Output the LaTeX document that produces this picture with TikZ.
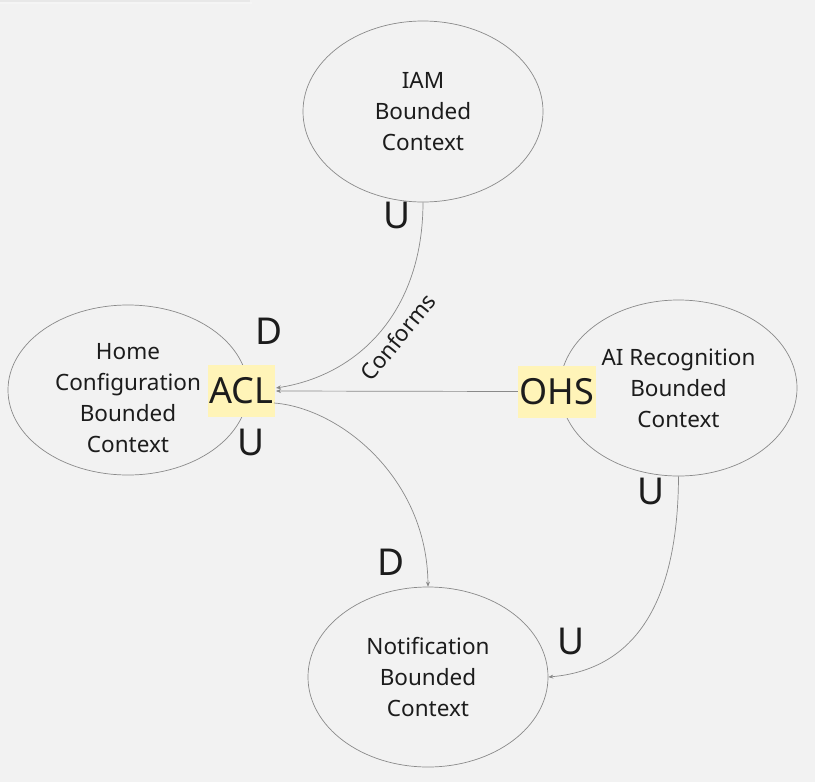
\documentclass[tikz,border=0pt]{standalone}
\usepackage{fontspec}
\setmainfont{Noto Sans}
\usetikzlibrary{shapes.geometric,arrows.meta}
\definecolor{bg}{HTML}{F2F2F2}
\definecolor{edge}{HTML}{8A8A8A}
\definecolor{ink}{HTML}{1C1C1C}
\definecolor{hl}{HTML}{FFF4B8}
\tikzset{
  ctx/.style={draw=edge, line width=0.7pt, ellipse, inner sep=0pt,
    minimum width=240pt, minimum height=181pt, align=center, text=ink,
    font=\fontsize{22.5}{31}\selectfont},
  ctxtext/.style={align=center, text=ink, inner sep=0pt,
    font=\fontsize{22.5}{31}\selectfont},
  tag/.style={fill=hl, inner sep=0pt, minimum width=67pt, minimum height=52pt,
    text=ink, font=\fontsize{36}{40}\selectfont},
  ud/.style={text=ink, inner sep=0pt, font=\fontsize{37}{40}\selectfont},
  rel/.style={draw=edge, line width=0.7pt, -{Stealth[length=5pt,width=4pt,fill=ink]}},
}
\begin{document}
\begin{tikzpicture}[x=1pt,y=-1pt]
\fill[bg] (0,0) rectangle (815,782);
\useasboundingbox (0,0) rectangle (815,782);
\draw[black!9, line width=1.5pt] (0,0.75) -- (250,0.75);
\draw[black!4, line width=2pt] (0,2.5) -- (252,2.5);

\node[ctx] (iam) at (423,111.5) {IAM\\Bounded\\Context};
\node[ctx, minimum height=170pt] (home) at (128,390) {};
\node[ctxtext] (hometext) at (128,398) {Home\\Configuration\\Bounded\\Context};
\node[ctx, minimum width=237pt, minimum height=176pt] (ai) at (678.5,388) {AI Recognition\\Bounded\\Context};
\node[ctx, minimum height=180pt] (notif) at (428,677) {Notification\\Bounded\\Context};

\node[tag] (acl) at (241.5,391) {ACL};
\node[tag, minimum width=78pt] (ohs) at (557,391.5) {OHS};

\coordinate (aclin1) at (276,388);
\coordinate (aclin2) at (276,391);
\coordinate (aclout) at (274,403);

\draw[rel] (iam.south) .. controls (423,310) and (360,375) .. (aclin1);
\draw[rel] (ohs.west) -- (aclin2);
\draw[rel] (aclout) .. controls (340,408) and (427,478) .. (notif.north);
\draw[rel] (ai.south) .. controls (678,610) and (630,670) .. (notif.east);

\node[text=ink, rotate=51, font=\fontsize{22.5}{26}\selectfont] (conf) at (398,337) {Conforms};

\node[ud] (u1) at (397.5,215) {U};
\node[ud] (d1) at (269,331) {D};
\node[ud] (u2) at (251,442) {U};
\node[ud] (d2) at (391,562) {D};
\node[ud] (u3) at (651,491.5) {U};
\node[ud] (u4) at (571,641.5) {U};
\end{tikzpicture}
\end{document}
